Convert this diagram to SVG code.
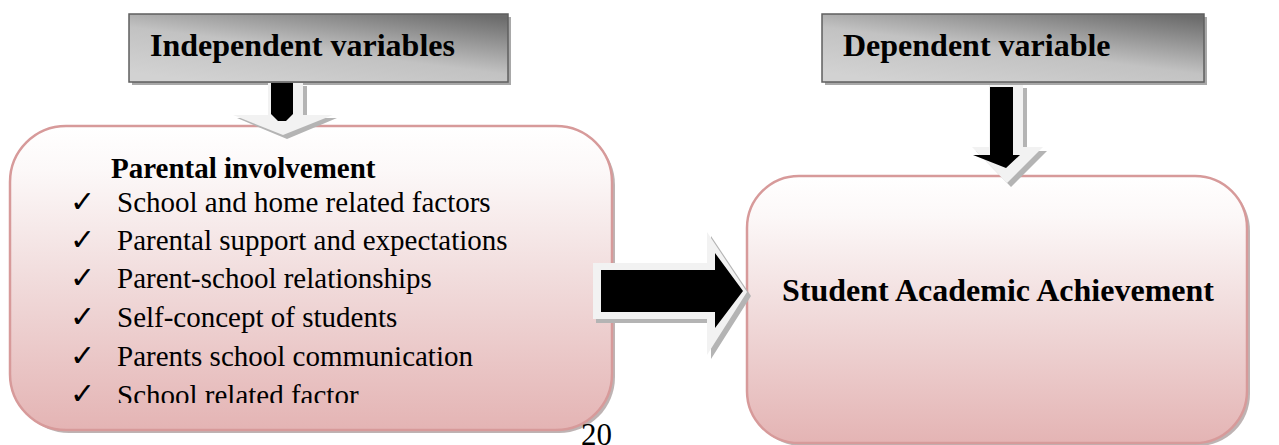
<svg xmlns="http://www.w3.org/2000/svg" width="1279" height="445" viewBox="0 0 1279 445">
<style>
.hdr{fill:url(#greyGrad);stroke:#5f5f5f;stroke-width:1.5}
.hshadow{fill:#a8a8a8}
.box{fill:url(#pinkGrad);stroke:#d79a9a;stroke-width:2.5}
.bshadow{fill:#a89a9a;opacity:0.75}
.bold{font-family:"Liberation Serif","Times New Roman","DejaVu Serif",serif;font-weight:bold;fill:#000}
.reg{font-family:"Liberation Serif","Times New Roman","DejaVu Serif",serif;fill:#000}
.chk{font-family:"DejaVu Sans",sans-serif;fill:#000;font-size:30px}
.alight{fill:#f2f2f2}
.ashadow{fill:#b4b4b4}
.ablack{fill:#000}
</style>
<defs>
<linearGradient id="greyGrad" x1="0.9" y1="0" x2="0.2" y2="1">
<stop offset="0" stop-color="#6c6c6c"/>
<stop offset="0.55" stop-color="#c2c2c2"/>
<stop offset="1" stop-color="#d2d2d2"/>
</linearGradient>
<linearGradient id="pinkGrad" x1="0" y1="0" x2="0" y2="1">
<stop offset="0" stop-color="#ffffff"/>
<stop offset="0.15" stop-color="#fcf8f8"/>
<stop offset="0.5" stop-color="#f1dcdc"/>
<stop offset="1" stop-color="#e4b4b4"/>
</linearGradient>
<clipPath id="leftClip"><rect x="0" y="0" width="640" height="403"/></clipPath>
</defs>

<g id="independent-header">
<rect class="hshadow" x="132" y="17" width="379" height="68"/>
<rect class="hdr" x="129" y="14" width="379" height="68"/>
<text class="bold" x="150" y="56" font-size="32">Independent variables</text>
</g>

<g id="dependent-header">
<rect class="hshadow" x="825" y="17" width="382" height="68"/>
<rect class="hdr" x="822" y="14" width="382" height="68"/>
<text class="bold" x="843" y="56" font-size="32">Dependent variable</text>
</g>

<g id="parental-involvement">
<rect class="bshadow" x="13" y="129" width="602" height="304" rx="56" ry="56"/>
<rect class="box" x="10" y="126" width="602" height="304" rx="56" ry="56"/>
<text class="bold" x="111" y="178" font-size="29">Parental involvement</text>
<g clip-path="url(#leftClip)">
<text class="chk" x="70" y="212">✓</text>
<text class="reg" x="117" y="212" font-size="29">School and home related factors</text>
<text class="chk" x="70" y="250">✓</text>
<text class="reg" x="117" y="250" font-size="29">Parental support and expectations</text>
<text class="chk" x="70" y="288">✓</text>
<text class="reg" x="117" y="288" font-size="29">Parent-school relationships</text>
<text class="chk" x="70" y="327">✓</text>
<text class="reg" x="117" y="327" font-size="29">Self-concept of students</text>
<text class="chk" x="70" y="366">✓</text>
<text class="reg" x="117" y="366" font-size="29">Parents school communication</text>
<text class="chk" x="70" y="404">✓</text>
<text class="reg" x="117" y="405" font-size="29">School related factor</text>
</g>
</g>

<g id="student-achievement">
<rect class="bshadow" x="750" y="179" width="500" height="267" rx="52" ry="52"/>
<rect class="box" x="747" y="176" width="500" height="267" rx="52" ry="52"/>
<text class="bold" x="782" y="301" font-size="32">Student Academic Achievement</text>
</g>

<g id="page-number">
<text class="reg" x="581" y="445" font-size="31">20</text>
</g>

<g id="connectors">
<!-- left down arrow -->
<polygon class="ashadow" points="272,86 307,86 307,118 337,118 287,139 237,118 272,118"/>
<polygon class="alight" points="268,83 303,83 303,115 333,115 283,135 233,115 268,115"/>
<polygon class="ablack" points="271,83 293,83 293,114 286,121 278,121 271,114"/>
<!-- right down arrow -->
<polygon class="ashadow" points="993,88 1027,88 1027,151 1047,151 1011,187 976,151 993,151"/>
<polygon class="alight" points="989,85 1023,85 1023,147 1043,147 1007,183 972,147 989,147"/>
<polygon class="ablack" points="990,87 1013,87 1013,155 1020,155 1006,168 973,155 990,155"/>
<!-- horizontal arrow -->
<polygon class="ashadow" points="596,267 711,267 711,236 751,296 711,359 711,323 596,323"/>
<polygon class="alight" points="593,263 707,263 707,232 747,292 707,355 707,319 593,319"/>
<polygon class="ablack" points="601,270 715,270 715,253 743,291 715,328 715,312 601,312"/>
</g>
</svg>
